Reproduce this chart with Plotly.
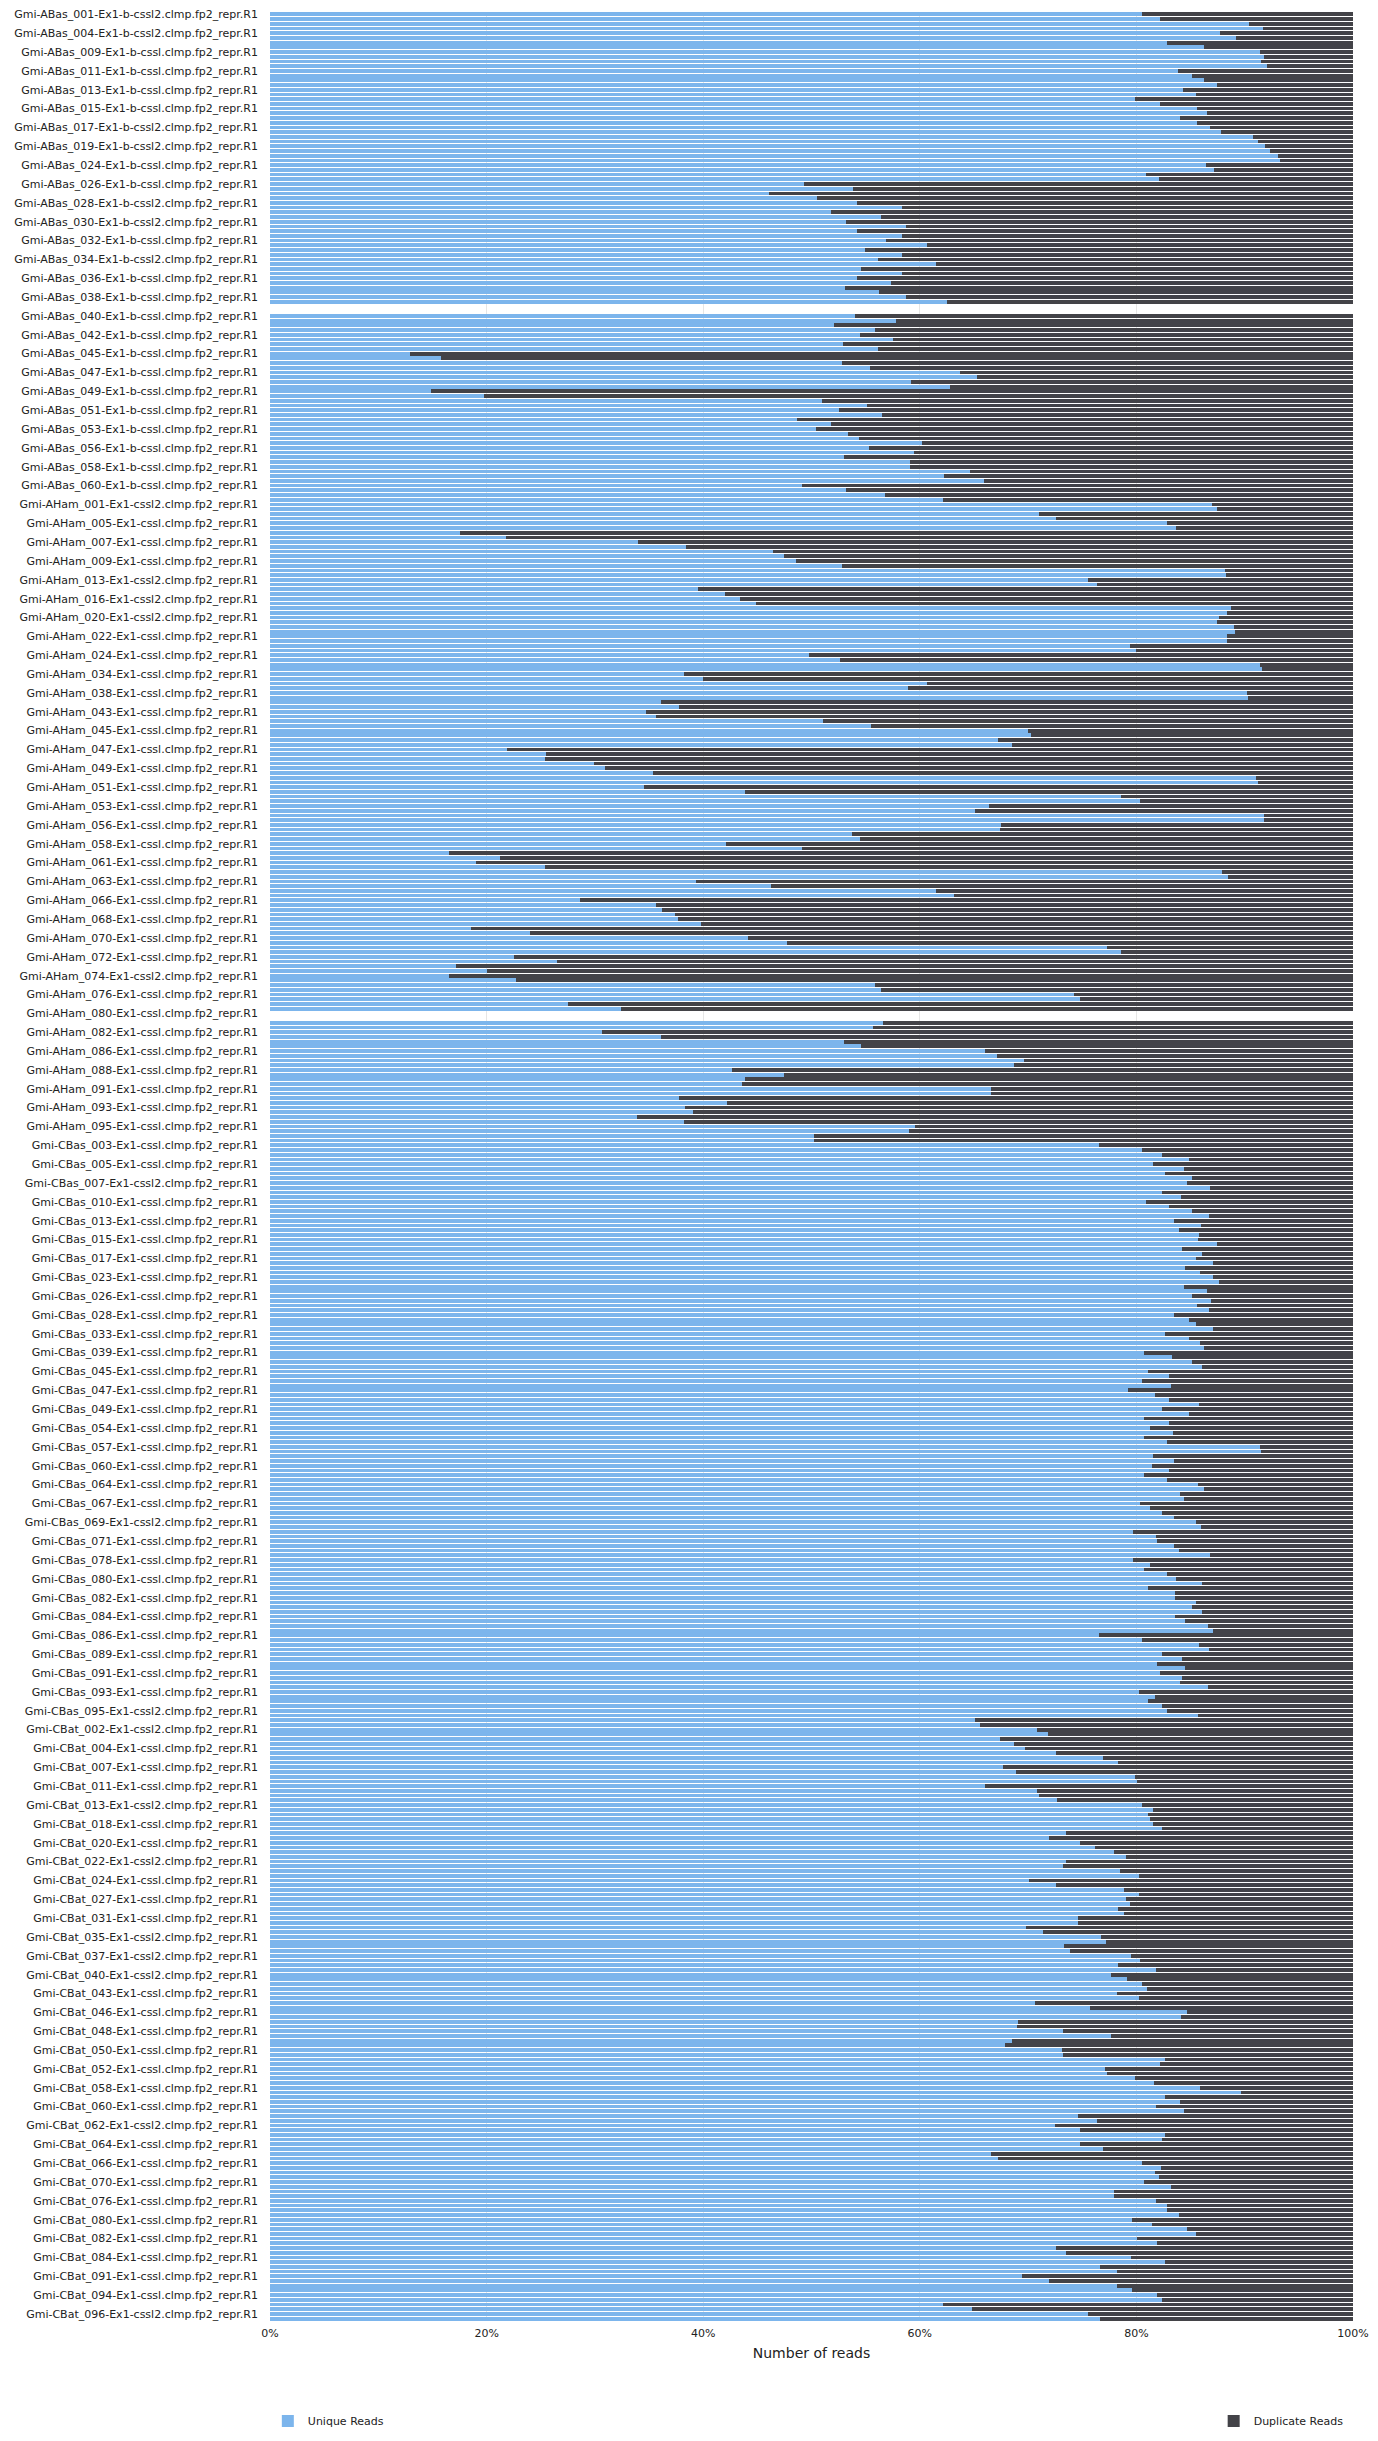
import re
import plotly.graph_objects as go

# Tick labels shown on the category axis (every 4th bar: sample R1 of every 2nd sample)
tick_labels = [
    "Gmi-ABas_001-Ex1-b-cssl2.clmp.fp2_repr.R1", "Gmi-ABas_004-Ex1-b-cssl2.clmp.fp2_repr.R1",
    "Gmi-ABas_009-Ex1-b-cssl.clmp.fp2_repr.R1", "Gmi-ABas_011-Ex1-b-cssl.clmp.fp2_repr.R1",
    "Gmi-ABas_013-Ex1-b-cssl.clmp.fp2_repr.R1", "Gmi-ABas_015-Ex1-b-cssl.clmp.fp2_repr.R1",
    "Gmi-ABas_017-Ex1-b-cssl2.clmp.fp2_repr.R1", "Gmi-ABas_019-Ex1-b-cssl2.clmp.fp2_repr.R1",
    "Gmi-ABas_024-Ex1-b-cssl.clmp.fp2_repr.R1", "Gmi-ABas_026-Ex1-b-cssl.clmp.fp2_repr.R1",
    "Gmi-ABas_028-Ex1-b-cssl2.clmp.fp2_repr.R1", "Gmi-ABas_030-Ex1-b-cssl2.clmp.fp2_repr.R1",
    "Gmi-ABas_032-Ex1-b-cssl.clmp.fp2_repr.R1", "Gmi-ABas_034-Ex1-b-cssl2.clmp.fp2_repr.R1",
    "Gmi-ABas_036-Ex1-b-cssl.clmp.fp2_repr.R1", "Gmi-ABas_038-Ex1-b-cssl.clmp.fp2_repr.R1",
    "Gmi-ABas_040-Ex1-b-cssl.clmp.fp2_repr.R1", "Gmi-ABas_042-Ex1-b-cssl.clmp.fp2_repr.R1",
    "Gmi-ABas_045-Ex1-b-cssl.clmp.fp2_repr.R1", "Gmi-ABas_047-Ex1-b-cssl.clmp.fp2_repr.R1",
    "Gmi-ABas_049-Ex1-b-cssl.clmp.fp2_repr.R1", "Gmi-ABas_051-Ex1-b-cssl.clmp.fp2_repr.R1",
    "Gmi-ABas_053-Ex1-b-cssl.clmp.fp2_repr.R1", "Gmi-ABas_056-Ex1-b-cssl.clmp.fp2_repr.R1",
    "Gmi-ABas_058-Ex1-b-cssl.clmp.fp2_repr.R1", "Gmi-ABas_060-Ex1-b-cssl.clmp.fp2_repr.R1",
    "Gmi-AHam_001-Ex1-cssl2.clmp.fp2_repr.R1", "Gmi-AHam_005-Ex1-cssl.clmp.fp2_repr.R1",
    "Gmi-AHam_007-Ex1-cssl.clmp.fp2_repr.R1", "Gmi-AHam_009-Ex1-cssl.clmp.fp2_repr.R1",
    "Gmi-AHam_013-Ex1-cssl2.clmp.fp2_repr.R1", "Gmi-AHam_016-Ex1-cssl2.clmp.fp2_repr.R1",
    "Gmi-AHam_020-Ex1-cssl2.clmp.fp2_repr.R1", "Gmi-AHam_022-Ex1-cssl.clmp.fp2_repr.R1",
    "Gmi-AHam_024-Ex1-cssl.clmp.fp2_repr.R1", "Gmi-AHam_034-Ex1-cssl.clmp.fp2_repr.R1",
    "Gmi-AHam_038-Ex1-cssl.clmp.fp2_repr.R1", "Gmi-AHam_043-Ex1-cssl.clmp.fp2_repr.R1",
    "Gmi-AHam_045-Ex1-cssl.clmp.fp2_repr.R1", "Gmi-AHam_047-Ex1-cssl.clmp.fp2_repr.R1",
    "Gmi-AHam_049-Ex1-cssl.clmp.fp2_repr.R1", "Gmi-AHam_051-Ex1-cssl.clmp.fp2_repr.R1",
    "Gmi-AHam_053-Ex1-cssl.clmp.fp2_repr.R1", "Gmi-AHam_056-Ex1-cssl.clmp.fp2_repr.R1",
    "Gmi-AHam_058-Ex1-cssl.clmp.fp2_repr.R1", "Gmi-AHam_061-Ex1-cssl.clmp.fp2_repr.R1",
    "Gmi-AHam_063-Ex1-cssl.clmp.fp2_repr.R1", "Gmi-AHam_066-Ex1-cssl.clmp.fp2_repr.R1",
    "Gmi-AHam_068-Ex1-cssl.clmp.fp2_repr.R1", "Gmi-AHam_070-Ex1-cssl.clmp.fp2_repr.R1",
    "Gmi-AHam_072-Ex1-cssl.clmp.fp2_repr.R1", "Gmi-AHam_074-Ex1-cssl2.clmp.fp2_repr.R1",
    "Gmi-AHam_076-Ex1-cssl.clmp.fp2_repr.R1", "Gmi-AHam_080-Ex1-cssl.clmp.fp2_repr.R1",
    "Gmi-AHam_082-Ex1-cssl.clmp.fp2_repr.R1", "Gmi-AHam_086-Ex1-cssl.clmp.fp2_repr.R1",
    "Gmi-AHam_088-Ex1-cssl.clmp.fp2_repr.R1", "Gmi-AHam_091-Ex1-cssl.clmp.fp2_repr.R1",
    "Gmi-AHam_093-Ex1-cssl.clmp.fp2_repr.R1", "Gmi-AHam_095-Ex1-cssl.clmp.fp2_repr.R1",
    "Gmi-CBas_003-Ex1-cssl.clmp.fp2_repr.R1", "Gmi-CBas_005-Ex1-cssl.clmp.fp2_repr.R1",
    "Gmi-CBas_007-Ex1-cssl2.clmp.fp2_repr.R1", "Gmi-CBas_010-Ex1-cssl.clmp.fp2_repr.R1",
    "Gmi-CBas_013-Ex1-cssl.clmp.fp2_repr.R1", "Gmi-CBas_015-Ex1-cssl.clmp.fp2_repr.R1",
    "Gmi-CBas_017-Ex1-cssl.clmp.fp2_repr.R1", "Gmi-CBas_023-Ex1-cssl.clmp.fp2_repr.R1",
    "Gmi-CBas_026-Ex1-cssl.clmp.fp2_repr.R1", "Gmi-CBas_028-Ex1-cssl.clmp.fp2_repr.R1",
    "Gmi-CBas_033-Ex1-cssl.clmp.fp2_repr.R1", "Gmi-CBas_039-Ex1-cssl.clmp.fp2_repr.R1",
    "Gmi-CBas_045-Ex1-cssl.clmp.fp2_repr.R1", "Gmi-CBas_047-Ex1-cssl.clmp.fp2_repr.R1",
    "Gmi-CBas_049-Ex1-cssl.clmp.fp2_repr.R1", "Gmi-CBas_054-Ex1-cssl.clmp.fp2_repr.R1",
    "Gmi-CBas_057-Ex1-cssl.clmp.fp2_repr.R1", "Gmi-CBas_060-Ex1-cssl.clmp.fp2_repr.R1",
    "Gmi-CBas_064-Ex1-cssl.clmp.fp2_repr.R1", "Gmi-CBas_067-Ex1-cssl.clmp.fp2_repr.R1",
    "Gmi-CBas_069-Ex1-cssl2.clmp.fp2_repr.R1", "Gmi-CBas_071-Ex1-cssl.clmp.fp2_repr.R1",
    "Gmi-CBas_078-Ex1-cssl.clmp.fp2_repr.R1", "Gmi-CBas_080-Ex1-cssl.clmp.fp2_repr.R1",
    "Gmi-CBas_082-Ex1-cssl.clmp.fp2_repr.R1", "Gmi-CBas_084-Ex1-cssl.clmp.fp2_repr.R1",
    "Gmi-CBas_086-Ex1-cssl.clmp.fp2_repr.R1", "Gmi-CBas_089-Ex1-cssl.clmp.fp2_repr.R1",
    "Gmi-CBas_091-Ex1-cssl.clmp.fp2_repr.R1", "Gmi-CBas_093-Ex1-cssl.clmp.fp2_repr.R1",
    "Gmi-CBas_095-Ex1-cssl2.clmp.fp2_repr.R1", "Gmi-CBat_002-Ex1-cssl2.clmp.fp2_repr.R1",
    "Gmi-CBat_004-Ex1-cssl.clmp.fp2_repr.R1", "Gmi-CBat_007-Ex1-cssl.clmp.fp2_repr.R1",
    "Gmi-CBat_011-Ex1-cssl.clmp.fp2_repr.R1", "Gmi-CBat_013-Ex1-cssl2.clmp.fp2_repr.R1",
    "Gmi-CBat_018-Ex1-cssl.clmp.fp2_repr.R1", "Gmi-CBat_020-Ex1-cssl.clmp.fp2_repr.R1",
    "Gmi-CBat_022-Ex1-cssl2.clmp.fp2_repr.R1", "Gmi-CBat_024-Ex1-cssl.clmp.fp2_repr.R1",
    "Gmi-CBat_027-Ex1-cssl.clmp.fp2_repr.R1", "Gmi-CBat_031-Ex1-cssl.clmp.fp2_repr.R1",
    "Gmi-CBat_035-Ex1-cssl2.clmp.fp2_repr.R1", "Gmi-CBat_037-Ex1-cssl2.clmp.fp2_repr.R1",
    "Gmi-CBat_040-Ex1-cssl2.clmp.fp2_repr.R1", "Gmi-CBat_043-Ex1-cssl.clmp.fp2_repr.R1",
    "Gmi-CBat_046-Ex1-cssl.clmp.fp2_repr.R1", "Gmi-CBat_048-Ex1-cssl.clmp.fp2_repr.R1",
    "Gmi-CBat_050-Ex1-cssl.clmp.fp2_repr.R1", "Gmi-CBat_052-Ex1-cssl.clmp.fp2_repr.R1",
    "Gmi-CBat_058-Ex1-cssl.clmp.fp2_repr.R1", "Gmi-CBat_060-Ex1-cssl.clmp.fp2_repr.R1",
    "Gmi-CBat_062-Ex1-cssl2.clmp.fp2_repr.R1", "Gmi-CBat_064-Ex1-cssl.clmp.fp2_repr.R1",
    "Gmi-CBat_066-Ex1-cssl.clmp.fp2_repr.R1", "Gmi-CBat_070-Ex1-cssl.clmp.fp2_repr.R1",
    "Gmi-CBat_076-Ex1-cssl.clmp.fp2_repr.R1", "Gmi-CBat_080-Ex1-cssl.clmp.fp2_repr.R1",
    "Gmi-CBat_082-Ex1-cssl.clmp.fp2_repr.R1", "Gmi-CBat_084-Ex1-cssl.clmp.fp2_repr.R1",
    "Gmi-CBat_091-Ex1-cssl.clmp.fp2_repr.R1", "Gmi-CBat_094-Ex1-cssl.clmp.fp2_repr.R1",
    "Gmi-CBat_096-Ex1-cssl2.clmp.fp2_repr.R1",
]

# Unique reads (% of reads) per bar, top to bottom; None = sample without data
unique_pct = [
    # ABas (bars 0-61)
    80.5, 82.2, 90.4, 91.7, 87.7, 89.2, 82.8, 86.2, 91.4, 91.8,
    91.5, 92.1, 83.8, 85.1, 86.2, 87.4, 84.3, 85.5, 79.9, 82.2,
    85.6, 86.5, 84.0, 85.6, 86.8, 87.8, 90.8, 91.2, 91.9, 92.3,
    93.1, 93.3, 86.4, 87.2, 80.9, 82.1, 49.3, 53.8, 46.1, 50.5,
    54.2, 58.4, 51.8, 56.4, 53.2, 58.7, 54.2, 58.4, 56.9, 60.7,
    54.9, 58.4, 56.1, 61.5, 54.6, 58.4, 54.2, 57.3, 53.1, 56.2,
    58.7, 62.5,
    None, None,
    # bars 64-117
    54.0, 57.8, 52.1, 55.9, 54.5, 57.5, 52.9, 56.1, 12.9, 15.8,
    52.8, 55.4, 63.7, 65.3, 59.2, 62.8, 14.9, 19.8, 51.0, 55.1,
    52.5, 56.5, 48.7, 51.8, 50.4, 53.4, 54.4, 60.2, 55.3, 59.5,
    53.0, 59.1, 59.1, 64.6, 62.2, 65.9, 49.1, 53.2, 56.8, 62.1,
    87.0, 87.4, 71.0, 72.6, 82.8, 83.7, 17.5, 21.8, 34.0, 38.4,
    46.4, 47.5, 48.6, 52.8,
    # bars 118-174
    88.2, 88.3, 75.5, 76.4, 39.5, 42.0, 43.4, 44.9, 88.7, 88.4,
    87.6, 87.4, 89.0, 89.1, 88.4, 88.4, 79.4, 80.0, 49.8, 52.6,
    91.4, 91.6, 38.2, 40.0, 60.7, 58.9, 90.2, 90.3, 36.1, 37.8,
    34.7, 35.6, 51.1, 55.5, 70.0, 70.3, 67.2, 68.5, 21.9, 25.5,
    25.4, 29.9, 30.9, 35.4, 91.0, 91.2, 34.5, 43.9, 78.6, 80.3,
    66.4, 65.1, 91.8, 91.8, 67.5, 67.4, 53.7,
    # bars 175-211
    54.5, 42.1, 49.1, 16.5, 21.2, 19.0, 25.4, 87.9, 88.5, 39.3,
    46.3, 61.5, 63.2, 28.6, 35.6, 36.2, 37.4, 37.7, 39.8, 18.6,
    24.0, 44.1, 47.7, 77.3, 78.6, 22.5, 26.5, 17.2, 20.0, 16.5,
    22.7, 55.9, 56.4, 74.2, 74.8, 27.5, 32.4,
    None, None,
    # bars 214-231
    56.6, 55.7, 30.7, 36.1, 53.0, 54.6, 66.0, 67.1, 69.6, 68.7,
    42.7, 47.5, 43.9, 43.6, 66.6, 66.6, 37.8, 42.2,
    # bars 232-287
    38.3, 39.1, 33.9, 38.2, 59.6, 59.0, 50.2, 50.2, 76.5, 80.5,
    82.4, 84.9, 81.5, 84.4, 82.6, 85.1, 84.7, 86.8, 82.4, 84.1,
    80.9, 83.0, 85.1, 86.7, 83.5, 86.0, 83.9, 85.8, 85.7, 87.4,
    84.2, 86.1, 85.5, 87.1, 84.5, 85.9, 87.1, 87.6, 84.4, 86.5,
    85.1, 86.9, 85.6, 86.7, 83.5, 84.9, 85.5, 87.1, 82.6, 84.9,
    85.9, 86.2, 80.7, 83.3, 85.1, 86.1,
    # bars 288-344
    81.1, 83.0, 80.5, 83.2, 79.2, 81.7, 83.0, 85.8, 82.4, 84.9,
    80.7, 83.0, 81.3, 83.4, 80.7, 82.8, 91.4, 91.5, 81.5, 83.5,
    81.4, 83.0, 80.7, 82.8, 85.7, 86.2, 84.0, 84.4, 80.3, 81.3,
    82.4, 83.5, 85.5, 86.0, 79.7, 81.8, 81.9, 83.5, 83.9, 86.8,
    79.7, 81.3, 80.7, 82.8, 83.7, 86.1, 81.1, 83.6, 83.6, 85.5,
    85.1, 86.1, 83.6, 84.5, 86.6, 87.1, 76.5,
    # bars 345-401
    80.5, 85.8, 86.7, 82.4, 84.2, 81.9, 84.5, 82.2, 84.2, 84.0,
    86.6, 80.2, 81.7, 81.1, 82.4, 82.8, 85.7, 65.1, 65.6, 70.8,
    71.8, 67.4, 68.7, 69.7, 72.6, 76.9, 78.3, 67.7, 68.9, 79.9,
    80.1, 66.0, 70.8, 71.0, 72.7, 80.5, 81.5, 81.1, 81.3, 81.5,
    82.4, 73.5, 71.9, 74.8, 76.2, 77.9, 79.0, 73.5, 73.2, 78.5,
    80.2, 70.1, 72.6, 78.9, 80.2, 79.0, 79.4,
    # bars 402-457
    78.3, 78.9, 74.6, 74.6, 69.8, 71.4, 76.7, 77.2, 73.3, 73.9,
    79.5, 80.3, 78.3, 81.8, 77.7, 79.1, 80.5, 81.0, 78.2, 80.2,
    70.6, 75.7, 84.7, 84.1, 69.1, 69.0, 73.2, 77.7, 68.5, 67.9,
    73.1, 73.2, 82.6, 82.2, 77.1, 77.3, 79.9, 81.6, 85.9, 89.7,
    82.6, 84.0, 81.8, 84.4, 74.6, 76.4, 72.5, 74.8, 82.6, 82.4,
    74.8, 76.9, 66.6, 67.2, 80.5, 82.3,
    # bars 458-489
    81.7, 82.1, 80.7, 83.2, 77.9, 77.9, 81.8, 82.8, 82.8, 83.9,
    79.6, 81.4, 84.7, 85.5, 80.1, 81.9, 72.6, 73.5, 79.5, 82.6,
    76.6, 78.2, 69.4, 71.9, 78.2, 79.6, 81.9, 82.4, 62.1, 64.8,
    75.5, 76.6,
]

# Duplicate share is the remainder of each 100 % bar
duplicate_pct = [None if u is None else round(100.0 - u, 1) for u in unique_pct]

x_tick_values = [0, 20, 40, 60, 80, 100]
x_tick_text = ["0%", "20%", "40%", "60%", "80%", "100%"]


def _next_sample(label):
    m = re.match(r"(Gmi-[A-Za-z]+_)(\d{3})(.*)\.R1$", label)
    return f"{m.group(1)}{int(m.group(2)) + 1:03d}{m.group(3)}.R1"


# Category names: each shown label is followed by its R2 and by an unlabeled sample (R1, R2)
categories = []
for lab in tick_labels:
    nxt = _next_sample(lab)
    for name in (lab, lab[:-1] + "2", nxt, nxt[:-1] + "2"):
        while name in categories:
            name = name + "_"
        categories.append(name)
categories = categories[:len(unique_pct)]

BLUE = "#7cb5ec"
DARK = "#434348"
FONT = "DejaVu Sans"

fig = go.Figure()
fig.add_trace(go.Bar(
    y=categories, x=unique_pct, orientation="h", name="Unique Reads",
    marker=dict(color=BLUE, line=dict(width=0)), legend="legend",
))
fig.add_trace(go.Bar(
    y=categories, x=duplicate_pct, orientation="h", name="Duplicate Reads",
    marker=dict(color=DARK, line=dict(width=0)), legend="legend2",
))

fig.update_layout(
    width=1378, height=2441,
    margin=dict(l=270, r=25, t=12, b=120, autoexpand=False),
    barmode="stack", bargap=0.2,
    plot_bgcolor="white", paper_bgcolor="white",
    font=dict(family=FONT, size=11, color="#222222"),
    xaxis=dict(
        range=[0, 100], tickmode="array", tickvals=x_tick_values, ticktext=x_tick_text,
        showgrid=True, gridcolor="#e6e6e6", gridwidth=1, zeroline=False,
        showline=False, ticks="", ticklabelstandoff=4,
        tickfont=dict(size=11, color="#222222"),
        title=dict(text="Number of reads", font=dict(size=14, color="#222222"), standoff=9),
    ),
    yaxis=dict(
        type="category", autorange="reversed",
        tickmode="array", tickvals=categories[::4], ticktext=tick_labels,
        showgrid=False, zeroline=False, showline=False, ticks="",
        ticklabelstandoff=11, tickfont=dict(size=11, color="#222222"),
    ),
    legend=dict(
        orientation="h", x=-0.002, xanchor="left", y=-0.0433, yanchor="middle",
        font=dict(size=11, color="#222222"), bgcolor="rgba(0,0,0,0)",
    ),
    legend2=dict(
        orientation="h", x=0.996, xanchor="right", y=-0.0433, yanchor="middle",
        font=dict(size=11, color="#222222"), bgcolor="rgba(0,0,0,0)",
    ),
    showlegend=True,
)

fig.write_html("out.html")
